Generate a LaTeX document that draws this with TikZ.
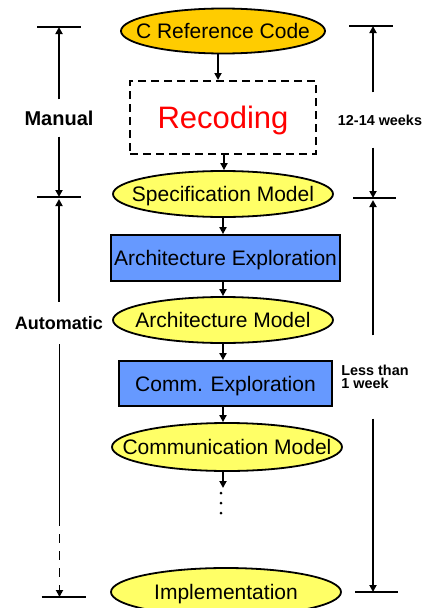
\documentclass[tikz,border=0pt]{standalone}
\usepackage{fontspec}
\setmainfont{Liberation Sans}
\usetikzlibrary{shapes.geometric,arrows.meta}
\newcommand{\slimtext}[1]{\makebox[0pt]{#1}}

\begin{document}
\begin{tikzpicture}[x=1pt,y=1pt,yscale=-1,xscale=1,
  model/.style={ellipse,draw,line width=1.8pt,inner sep=0pt,text depth=0pt,fill={rgb,255:red,255;green,255;blue,102},font=\fontsize{21}{25}\selectfont},
  explore/.style={rectangle,draw,line width=1.8pt,inner sep=0pt,text depth=0pt,fill={rgb,255:red,102;green,153;blue,255},font=\fontsize{21}{25}\selectfont},
  flow/.style={line width=1.8pt,-{Triangle[length=7pt,width=7pt]}},
  bar/.style={line width=2.5pt},
  side/.style={font=\bfseries\fontsize{20}{24}\selectfont,inner sep=0pt},
  note/.style={font=\bfseries\fontsize{14.4}{13}\selectfont,align=left,inner sep=0pt}]
\useasboundingbox (0,0) rectangle (423,608);

%design flow
\coordinate (axis) at (223,0);
\node [model,fill={rgb,255:red,255;green,204;blue,0},minimum width=204pt,minimum height=45pt] (cref) at (223,31) {\slimtext{C Reference Code}};
\node [draw,dashed,dash pattern=on 8pt off 5pt,line width=2pt,minimum width=186pt,minimum height=73pt,text depth=0pt,text=red,font=\fontsize{31}{36}\selectfont] (recode) at (223,117.5) {Recoding};
\node [model,minimum width=220pt,minimum height=46pt] (spec) at (223,194) {\slimtext{Specification Model}};
\node [explore,minimum width=229pt,minimum height=46pt] (archx) at (225.5,258) {Architecture Exploration};
\node [model,minimum width=220pt,minimum height=46pt] (archm) at (223,320) {\slimtext{Architecture Model}};
\node [explore,minimum width=213pt,minimum height=45pt] (commx) at (225.5,383.5) {Comm. Exploration};
\node [model,minimum width=230pt,minimum height=48pt] (commm) at (227,447) {\slimtext{Communication Model}};
\node [model,minimum width=230pt,minimum height=48pt] (impl) at (226,592) {\slimtext{Implementation}};
\coordinate (dots) at (223,488);

\draw [flow] ([xshift=-5pt]axis |- cref.south) -- ([xshift=-5pt]axis |- recode.north);
\draw [flow] ([xshift=1pt]axis |- recode.south) -- ([xshift=1pt]axis |- spec.north);
\draw [flow] (axis |- spec.south) -- (axis |- archx.north);
\draw [flow] (axis |- archx.south) -- (axis |- archm.north);
\draw [flow] (axis |- archm.south) -- (axis |- commx.north);
\draw [flow] (axis |- commx.south) -- (axis |- commm.north);
\draw [flow] (axis |- commm.south) -- (dots);
\foreach \y in {493,503,513} \fill (221,\y) circle (1.5);

%manual / automatic
\coordinate (ltop) at (59,27);
\coordinate (lmid) at (59,197);
\coordinate (lbreak) at (59.5,517);
\coordinate (lbot) at (59.5,597);
\draw [bar] ([xshift=-22pt]ltop) -- ([xshift=22pt]ltop);
\draw [bar] ([xshift=-22pt]lmid) -- ([xshift=22pt]lmid);
\draw [bar] ([xshift=-18pt]lbot) -- ([xshift=26pt]lbot);
\node [side,minimum height=37pt] (manual) at (59,118) {Manual};
\node [side,font=\bfseries\fontsize{18}{22}\selectfont,minimum height=42pt] (auto) at (59,323) {Automatic};
\draw [flow] (manual) -- (ltop);
\draw [flow] (manual) -- (lmid);
\draw [flow] (lmid |- auto.north) -- ([yshift=2pt]lmid);
\draw [line width=1.8pt] (lbreak |- auto.south) -- (lbreak);
\draw [flow,dash pattern=on 9pt off 8pt] (lbreak) -- (lbot);

%time
\coordinate (rtop) at (373,26);
\coordinate (rmid) at (373,198);
\coordinate (rbot) at (373,592);
\draw [bar] ([xshift=-24pt]rtop) -- ([xshift=20pt]rtop);
\draw [bar] ([xshift=-20pt]rmid) -- ([xshift=23pt]rmid);
\draw [bar] ([xshift=-18pt]rbot) -- ([xshift=25pt]rbot);
\node [note,minimum height=55pt] (weeks) at (380,120) {12-14 weeks};
\node [note,minimum height=83pt] (less) at (375,377) {Less than\\1 week};
\draw [flow] (rtop |- weeks.north) -- (rtop);
\draw [flow] (rtop |- weeks.south) -- (rmid);
\draw [flow] (rmid |- less.north) -- ([yshift=2pt]rmid);
\draw [flow] (rmid |- less.south) -- (rbot);

\end{tikzpicture}
\end{document}
